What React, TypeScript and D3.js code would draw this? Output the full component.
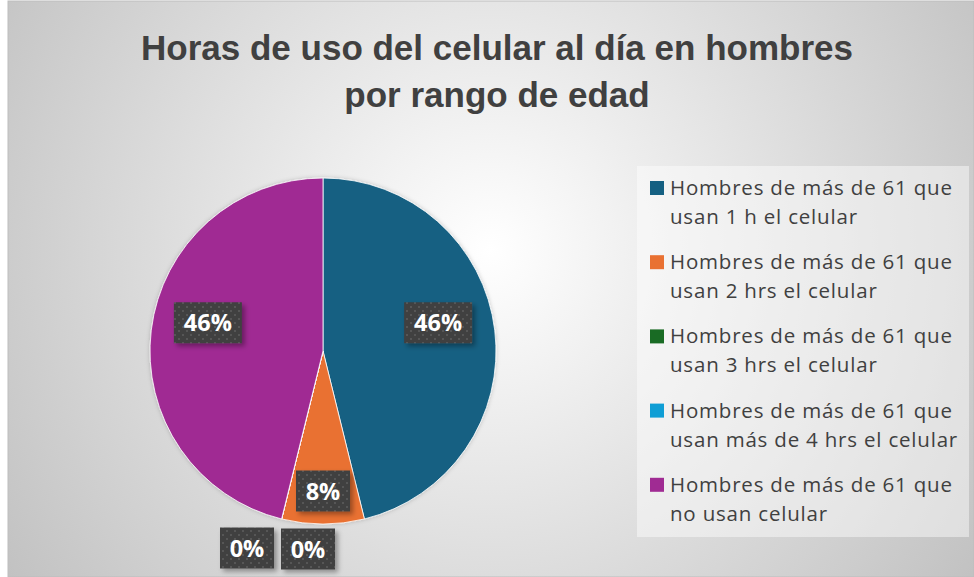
import React from "react";
import * as d3 from "d3";

const categories = [
  ["Hombres de más de 61 que", "usan 1 h el celular"],
  ["Hombres de más de 61 que", "usan 2 hrs el celular"],
  ["Hombres de más de 61 que", "usan 3 hrs el celular"],
  ["Hombres de más de 61 que", "usan más de 4 hrs el celular"],
  ["Hombres de más de 61 que", "no usan celular"],
];
const values = [6, 1, 0, 0, 6];
const colors = ["#156082", "#E97132", "#196B24", "#0F9ED5", "#A02B93"];
const titleLines = ["Horas de uso del celular al día en hombres", "por rango de edad"];

const W = 974;
const H = 577;
const cx = 323;
const cy = 351;
const R = 173;

// label placement offsets (layout only)
const labelPos: Record<number, { r: number; dx: number; dy: number }> = {
  0: { r: 118, dx: -2, dy: -14 },
  1: { r: 140, dx: 0, dy: 0 },
  4: { r: 118, dx: 2, dy: -14 },
};
const zeroPos = [
  { x: 247, y: 548 },
  { x: 308, y: 549 },
];

export default function App() {
  const total = d3.sum(values);
  const pie = d3.pie<number>().sort(null).value((d) => d)(values);
  const arc = d3.arc<d3.PieArcDatum<number>>().innerRadius(0).outerRadius(R);
  const fmt = d3.format(".0%");

  let zi = 0;
  const labels = pie.map((p, i) => {
    const pct = fmt(values[i] / total);
    let x: number, y: number, w: number;
    if (values[i] === 0) {
      const z = zeroPos[zi++];
      x = z.x;
      y = z.y;
      w = 54;
    } else {
      const lp = labelPos[i];
      const c = d3.arc<d3.PieArcDatum<number>>().innerRadius(lp.r).outerRadius(lp.r).centroid(p);
      x = cx + c[0] + lp.dx;
      y = cy + c[1] + lp.dy;
      w = pct.length > 2 ? 68 : 54;
    }
    return { x, y, w, pct };
  });

  return (
    <svg width={W} height={H} style={{ position: "absolute", left: 0, top: 0 }}>
      <defs>
        <radialGradient id="bg" gradientUnits="userSpaceOnUse" cx={490} cy={250} r={580}>
          <stop offset="0" stopColor="#ffffff" />
          <stop offset="1" stopColor="#c2c2c2" />
        </radialGradient>
        <pattern id="dots" width={8} height={8} patternUnits="userSpaceOnUse">
          <rect width={8} height={8} fill="#404040" />
          <rect x={2} y={2} width={2} height={2} fill="#575757" />
          <rect x={6} y={6} width={2} height={2} fill="#575757" />
        </pattern>
        <filter id="sh" x="-20%" y="-20%" width="150%" height="160%">
          <feDropShadow dx={3} dy={3} stdDeviation={2.5} floodColor="#000" floodOpacity={0.35} />
        </filter>
        <filter id="pieSh" x="-10%" y="-10%" width="120%" height="120%">
          <feDropShadow dx={0} dy={0} stdDeviation={2} floodColor="#000" floodOpacity={0.2} />
        </filter>
      </defs>
      <rect x={0} y={0} width={W} height={H} fill="#ffffff" />
      <rect x={8} y={1} width={W - 8} height={H - 1} fill="url(#bg)" stroke="#bdbdbd" strokeWidth={1} />

      {titleLines.map((t, i) => (
        <text
          key={i}
          x={497}
          y={60 + i * 46.5}
          textAnchor="middle"
          fontFamily="'Liberation Sans', Arial, sans-serif"
          fontWeight="bold"
          fontSize={35}
          fill="#404040"
        >
          {t}
        </text>
      ))}

      <g transform={`translate(${cx},${cy})`} filter="url(#pieSh)">
        {pie.map((p, i) => (
          <path key={i} d={arc(p) || ""} fill={colors[i]} stroke="#ffffff" strokeWidth={0.8} />
        ))}
      </g>

      {labels.map((l, i) => (
        <g key={i}>
          <rect
            x={l.x - l.w / 2}
            y={l.y - 20.5}
            width={l.w}
            height={41}
            fill="url(#dots)"
            filter="url(#sh)"
          />
          <text
            x={l.x}
            y={l.y + 8.5}
            textAnchor="middle"
            fontFamily="'Open Sans', sans-serif"
            fontWeight="bold"
            fontSize={23.5}
            fill="#ffffff"
          >
            {l.pct}
          </text>
        </g>
      ))}

      <rect x={637} y={166} width={332} height={371} fill="#ffffff" fillOpacity={0.45} />
      {categories.map((c, i) => {
        const y0 = 188 + i * 74.2;
        return (
          <g key={i}>
            <rect x={650} y={y0 - 7} width={14} height={14} fill={colors[i]} />
            {c.map((line, j) => (
              <text
                key={j}
                x={670}
                y={y0 + 7 + j * 29}
                fontFamily="'Open Sans', sans-serif"
                fontSize={20.5}
                letterSpacing={0.8}
                fill="#404040"
              >
                {line}
              </text>
            ))}
          </g>
        );
      })}
    </svg>
  );
}
